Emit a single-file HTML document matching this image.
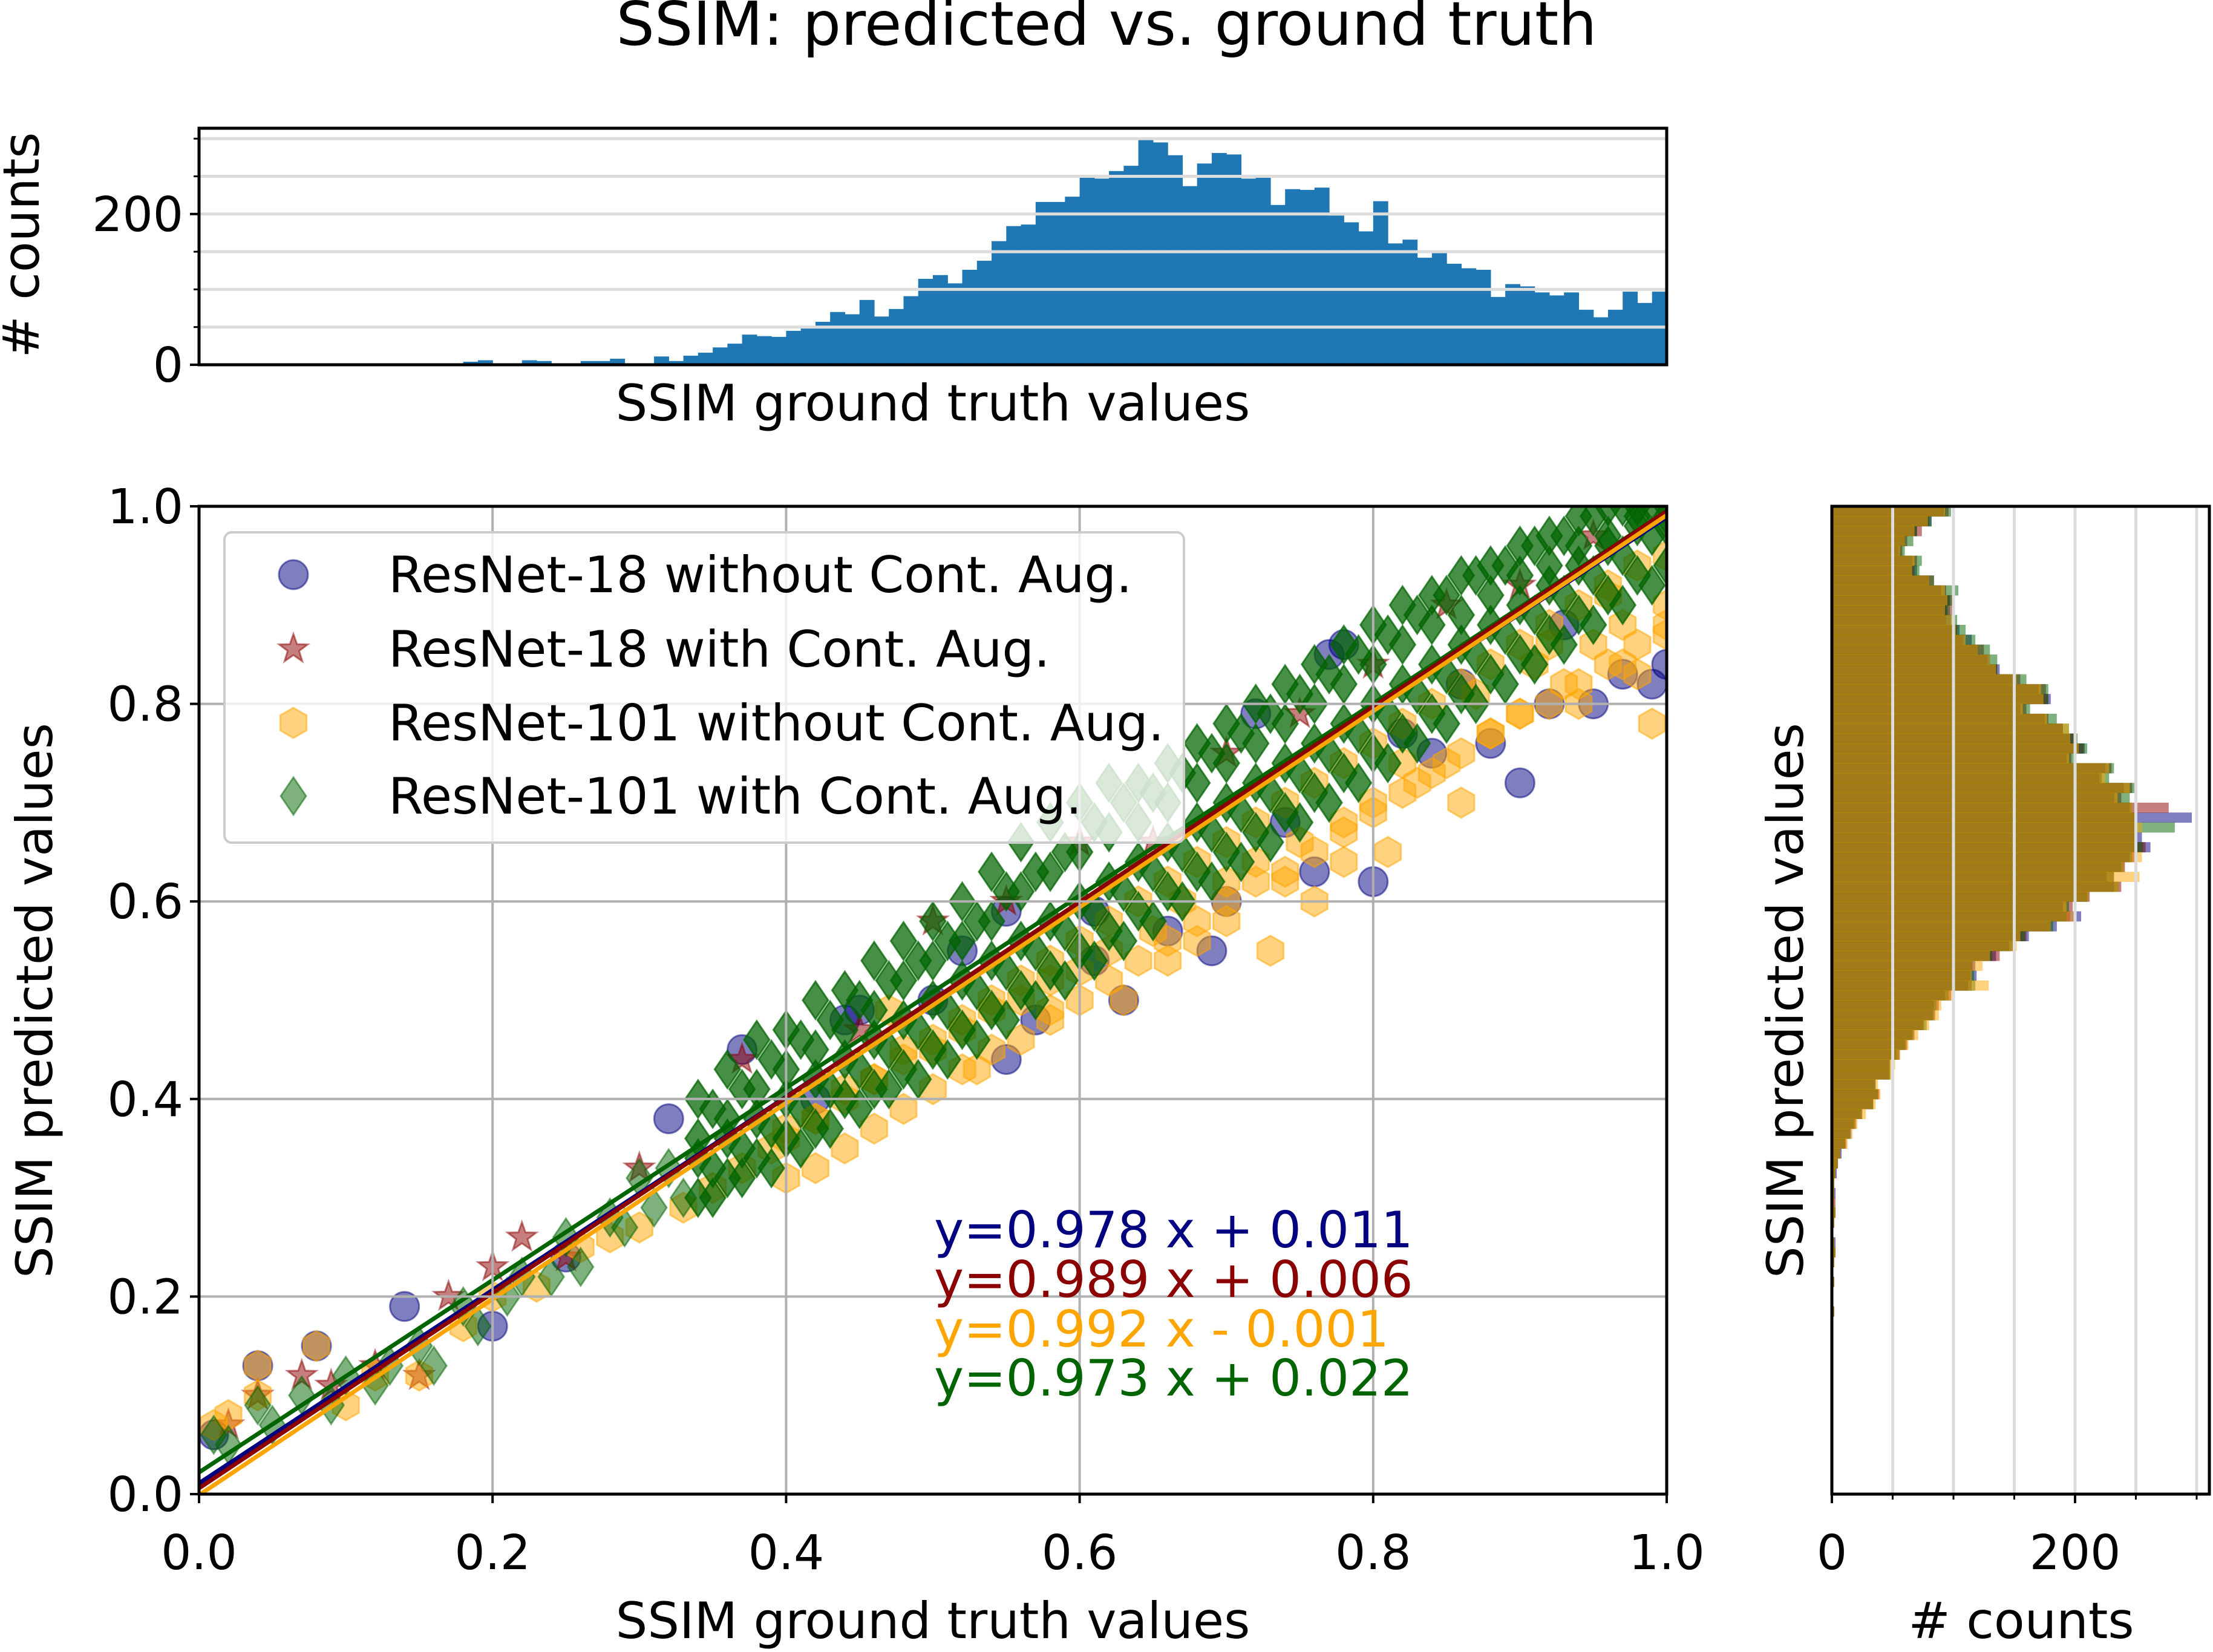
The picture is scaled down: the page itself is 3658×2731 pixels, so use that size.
<!DOCTYPE html>
<html><head><meta charset="utf-8"><style>
html,body{margin:0;padding:0;background:#fff}
svg text{font-family:"DejaVu Sans","Liberation Sans",sans-serif;fill:#000}
</style></head><body>
<svg id="fig" width="3658" height="2726" viewBox="0 0 3658 2726" xmlns="http://www.w3.org/2000/svg">
<rect width="3658" height="2726" fill="#fff"/>
<text x="1829" y="74" font-size="100" text-anchor="middle">SSIM: predicted vs. ground truth</text>
<g id="top"></g><g id="main"></g><g id="right"></g>
</svg>
<script>
// ---------- DATA ----------
const topCounts=[0,0,0,0,0,0,0,0,0,0,0,0,0,1,
1,2,1,0,4,6,2,1,6,5,1,2,5,5,8,1,2,11,5,12,16,23,28,40,38,37,45,49,57,70,
67,86,64,74,91,114,119,108,126,138,164,184,186,216,216,223,248,247,257,264,
299,295,278,237,267,281,279,247,248,212,233,232,235,198,189,177,217,161,166,142,
151,134,128,126,90,107,104,96,92,96,73,63,73,97,82,97];
const topYTicks=[0,200];
const topMinorTicks=[50,100,150,250,300];
const mainTicks=[0,0.2,0.4,0.6,0.8,1.0];
const mainTickLabels=["0.0","0.2","0.4","0.6","0.8","1.0"];
const rightTicks=[0,200];
const rightMinor=[50,100,150,250,300];
const histNavy=[92,82,70,60,55,66,70,80,90,97,95,98,105,115,120,130,138,150,170,180,155,175,190,199,208,193,225,220,240,232,245,296,250,255,262,245,238,226,232,210,190,205,185,162,146,135,118,119,112,93,84,83,75,66,60,53,47,47,36,38,34,24,18,16,11,8,5,4,2,3,2,3,2,1,3,3,2,1,2,1,1,2,1,1,0,1,0,0,1,0,0,0,0,0,0,0,0,0,0,0];
const histRed=[96,80,74,62,58,70,68,84,94,99,100,94,103,108,125,128,136,155,176,178,160,178,190,200,207,197,230,222,247,238,277,249,250,250,258,250,241,232,238,212,198,196,180,160,150,138,116,114,115,98,88,85,76,68,62,56,48,48,35,39,34,25,20,15,12,7,5,3,2,2,3,3,2,1,2,3,2,1,2,1,1,2,1,1,0,1,0,0,1,0,0,0,0,0,0,0,0,0,0,0];
const histOrange=[93,79,68,60,56,68,66,80,93,95,93,99,102,110,120,130,135,152,172,174,157,177,195,196,203,195,228,225,245,235,247,249,255,251,249,255,240,253,236,211,193,200,180,155,152,130,124,115,129,100,90,88,80,71,63,56,52,49,38,40,36,28,21,17,13,7,5,3,2,2,2,3,2,1,2,3,2,1,2,1,1,2,1,1,0,1,0,0,1,0,0,0,0,0,0,0,0,0,0,0];
const histGreen=[98,82,70,67,60,74,72,84,104,100,97,103,110,118,130,136,136,160,178,178,163,185,195,202,210,200,232,228,249,245,247,249,282,251,256,247,240,232,236,211,195,193,182,159,149,132,115,117,118,96,86,84,78,67,61,55,48,48,36,38,34,25,19,15,11,7,5,3,2,2,2,3,2,1,2,3,2,1,2,1,1,2,1,1,0,1,0,0,1,0,0,0,0,0,0,0,0,0,0,0];

const bluePts=[[0.01,0.06],[0.04,0.13],[0.08,0.15],[0.14,0.19],[0.2,0.17],[0.25,0.24],[0.32,0.38],[0.37,0.45],[0.42,0.4],[0.44,0.48],[0.5,0.5],[0.55,0.59],[0.57,0.48],[0.61,0.54],[0.63,0.5],[0.66,0.57],[0.7,0.6],[0.74,0.68],[0.77,0.85],[0.78,0.86],[0.8,0.62],[0.82,0.77],[0.84,0.75],[0.86,0.82],[0.88,0.76],[0.9,0.72],[0.92,0.8],[0.93,0.88],[0.95,0.8],[0.97,0.83],[0.99,0.82],[1.0,0.84],[0.72,0.79],[0.61,0.59],[0.52,0.55],[0.45,0.49],[0.55,0.44],[0.76,0.63],[0.69,0.55]];
const redPts=[[0.02,0.07],[0.04,0.1],[0.07,0.12],[0.09,0.11],[0.12,0.13],[0.15,0.12],[0.17,0.2],[0.2,0.23],[0.22,0.26],[0.25,0.24],[0.3,0.33],[0.37,0.44],[0.45,0.47],[0.5,0.58],[0.55,0.6],[0.6,0.66],[0.65,0.66],[0.7,0.75],[0.75,0.79],[0.8,0.84],[0.85,0.9],[0.9,0.92],[0.95,0.97]];
const orangePts=[[0.01,0.07],[0.02,0.08],[0.04,0.13],[0.04,0.10],[0.08,0.15],[0.1,0.09],[0.12,0.12],[0.15,0.12],[0.18,0.17],[0.2,0.2],[0.23,0.21],[0.26,0.25],[0.28,0.26],[0.3,0.27],[0.33,0.29],[0.35,0.31],[0.37,0.33],[0.39,0.35],[0.4,0.37],[0.42,0.38],[0.44,0.41],[0.46,0.42],[0.48,0.45],[0.5,0.45],[0.52,0.47],[0.54,0.49],[0.56,0.5],[0.58,0.52],[0.6,0.53],[0.62,0.55],[0.63,0.5],[0.65,0.57],[0.67,0.6],[0.68,0.56],[0.7,0.62],[0.72,0.64],[0.73,0.55],[0.75,0.66],[0.76,0.6],[0.78,0.68],[0.8,0.7],[0.81,0.65],[0.83,0.72],[0.85,0.74],[0.86,0.7],[0.88,0.77],[0.9,0.79],[0.91,0.84],[0.93,0.82],[0.94,0.8],[0.95,0.86],[0.97,0.88],[0.98,0.83],[0.99,0.78],[1.0,0.9],[1.0,0.87],[0.47,0.49],[0.53,0.43],[0.58,0.49],[0.66,0.54],[0.7,0.58],[0.74,0.62],[0.78,0.64],[0.82,0.74],[0.87,0.81],[0.92,0.86],[0.96,0.91],[0.97,0.84]];
const orangeX=[0.40,0.42,0.44,0.46,0.48,0.50,0.52,0.54,0.56,0.58,0.60,0.62,0.64,0.66,0.68,0.70,0.72,0.74,0.76,0.78,0.80,0.82,0.84,0.86,0.88,0.90,0.92,0.94,0.96,0.98,1.00];
const orangeY1=[0.36,0.38,0.40,0.42,0.44,0.46,0.48,0.50,0.52,0.54,0.56,0.58,0.60,0.62,0.64,0.66,0.68,0.70,0.72,0.74,0.76,0.78,0.80,0.82,0.84,0.86,0.88,0.90,0.92,0.94,0.95];
const orangeY2=[0.32,0.33,0.35,0.37,0.39,0.41,0.43,0.45,0.46,0.48,0.50,0.52,0.54,0.56,0.58,0.60,0.62,0.63,0.65,0.67,0.69,0.71,0.73,0.75,0.77,0.79,0.80,0.82,0.84,0.86,0.88];
const greenLowPts=[[0.01,0.06],[0.02,0.05],[0.04,0.09],[0.05,0.07],[0.07,0.10],[0.09,0.09],[0.1,0.12],[0.12,0.11],[0.13,0.13],[0.15,0.15],[0.16,0.13],[0.18,0.19],[0.19,0.17],[0.21,0.2],[0.22,0.22],[0.24,0.22],[0.25,0.26],[0.26,0.23],[0.28,0.28],[0.29,0.27],[0.3,0.32],[0.31,0.29],[0.32,0.33],[0.33,0.30]];
const greenX=[0.34,0.36,0.38,0.40,0.42,0.44,0.46,0.48,0.50,0.52,0.54,0.56,0.58,0.60,0.62,0.64,0.66,0.68,0.70,0.72,0.74,0.76,0.78,0.80,0.82,0.84,0.86,0.88,0.90,0.92,0.94,0.96,0.98,1.00];
const greenY1=[0.40,0.43,0.46,0.47,0.50,0.51,0.54,0.56,0.58,0.60,0.63,0.66,0.68,0.70,0.72,0.72,0.74,0.76,0.78,0.80,0.82,0.84,0.86,0.88,0.90,0.91,0.93,0.94,0.96,0.97,0.99,1.00,1.00,1.00];
const greenY2=[0.36,0.38,0.41,0.43,0.45,0.47,0.49,0.52,0.54,0.56,0.58,0.61,0.63,0.65,0.67,0.68,0.70,0.72,0.74,0.76,0.78,0.80,0.82,0.84,0.86,0.88,0.89,0.91,0.93,0.94,0.96,0.97,0.99,0.99];
const greenY3=[0.34,0.36,0.38,0.40,0.42,0.44,0.46,0.48,0.50,0.52,0.54,0.56,0.58,0.60,0.62,0.64,0.66,0.68,0.70,0.72,0.74,0.76,0.78,0.80,0.82,0.84,0.86,0.88,0.90,0.92,0.94,0.96,0.98,0.98];
const greenY4=[0.30,0.32,0.34,0.36,0.37,0.40,0.41,0.43,0.45,0.47,0.49,0.51,0.53,0.55,0.57,0.59,0.61,0.63,0.65,0.67,0.69,0.71,0.73,0.75,0.77,0.79,0.81,0.83,0.85,0.87,0.89,0.91,0.93,0.94];
const greenX2=[0.35,0.37,0.39,0.41,0.43,0.45,0.47,0.49,0.51,0.53,0.55,0.57,0.59,0.61,0.63,0.65,0.67,0.69,0.71,0.73,0.75,0.77,0.79,0.81,0.83,0.85,0.87,0.89,0.91,0.93,0.95,0.97,0.99];
const greenY5=[0.39,0.41,0.44,0.46,0.48,0.50,0.52,0.54,0.56,0.58,0.61,0.63,0.65,0.68,0.70,0.71,0.73,0.75,0.77,0.79,0.81,0.83,0.85,0.87,0.89,0.91,0.93,0.94,0.96,0.97,0.99,1.00,1.00];
const greenY6=[0.33,0.35,0.37,0.39,0.41,0.43,0.45,0.47,0.49,0.51,0.53,0.55,0.57,0.59,0.61,0.63,0.65,0.67,0.69,0.71,0.73,0.75,0.77,0.79,0.81,0.83,0.85,0.87,0.89,0.91,0.93,0.95,0.97];
const greenY7=[0.30,0.32,0.33,0.35,0.37,0.39,0.41,0.42,0.44,0.46,0.48,0.50,0.52,0.54,0.56,0.58,0.60,0.62,0.64,0.66,0.68,0.70,0.72,0.74,0.76,0.78,0.80,0.82,0.84,0.86,0.88,0.90,0.92];
const fitSlopes=[0.978,0.989,0.992,0.973];
const fitIntercepts=[0.011,0.006,-0.001,0.022];
const fitLabels=["y=0.978 x + 0.011","y=0.989 x + 0.006","y=0.992 x - 0.001","y=0.973 x + 0.022"];
const seriesNames=["ResNet-18 without Cont. Aug.","ResNet-18 with Cont. Aug.","ResNet-101 without Cont. Aug.","ResNet-101 with Cont. Aug."];
const seriesColors=["#000080","#8b0000","#ffa500","#006400"];

// ---------- SCALES ----------
const NS="http://www.w3.org/2000/svg";
const ML=329,MR=2755,MT=837,MB=2470;
const mx=v=>ML+v*(MR-ML), my=v=>MB-v*(MB-MT);
const TL=329,TR=2755,TT=212,TB=603;
const ty=c=>TB-c*1.246;
const RL=3028,RR=3652;
const rx=c=>RL+c*2.01;
function el(parent,tag,attrs,text){const e=document.createElementNS(NS,tag);for(const k in attrs)e.setAttribute(k,attrs[k]);if(text!==undefined)e.textContent=text;parent.appendChild(e);return e;}

// ---------- TOP HISTOGRAM ----------
const gT=document.getElementById('top');
const bw=(TR-TL)/topCounts.length;
topCounts.forEach((c,i)=>{if(c<=0)return;
 const r=el(gT,'rect',{x:TL+i*bw,y:ty(c),width:bw+0.6,height:TB-ty(c),fill:'#1f77b4'});
 
 });
[50,100,150,200,250,300].forEach(c=>{el(gT,'line',{x1:TL,x2:TR,y1:ty(c),y2:ty(c),stroke:'#dcdcdc','stroke-width':5});});
el(gT,'rect',{x:TL,y:TT,width:TR-TL,height:TB-TT,fill:'none',stroke:'#000','stroke-width':5});
topYTicks.forEach(c=>{el(gT,'line',{x1:TL-15,x2:TL,y1:ty(c),y2:ty(c),stroke:'#000','stroke-width':4});
 const t=el(gT,'text',{x:TL-26,y:ty(c)+28,'font-size':79,'text-anchor':'end'},String(c));
 
 });
topMinorTicks.forEach(c=>{el(gT,'line',{x1:TL-9,x2:TL,y1:ty(c),y2:ty(c),stroke:'#000','stroke-width':3});});
let t1=el(gT,'text',{x:0,y:0,'font-size':83,'text-anchor':'middle',transform:'translate(64,405) rotate(-90)'},'# counts');


let t2=el(gT,'text',{x:1542,y:695,'font-size':83,'text-anchor':'middle'},'SSIM ground truth values');



// ---------- MAIN SCATTER ----------
const gM=document.getElementById('main');
function circle(g,x,y,c){return el(g,'circle',{cx:mx(x),cy:my(y),r:24,fill:c,'fill-opacity':0.5,stroke:c,'stroke-opacity':0.5,'stroke-width':3});}
function star(g,x,y,c){let p=[];const X=mx(x),Y=my(y);for(let k=0;k<10;k++){const a=-Math.PI/2+k*Math.PI/5,r=k%2?10:25;p.push((X+r*Math.cos(a)).toFixed(1)+','+(Y+r*Math.sin(a)).toFixed(1));}
 return el(g,'polygon',{points:p.join(' '),fill:c,'fill-opacity':0.5,stroke:c,'stroke-opacity':0.5,'stroke-width':3});}
function hexa(g,x,y,c){let p=[];const X=mx(x),Y=my(y);for(let k=0;k<6;k++){const a=-Math.PI/2+k*Math.PI/3;p.push((X+25*Math.cos(a)).toFixed(1)+','+(Y+25*Math.sin(a)).toFixed(1));}
 return el(g,'polygon',{points:p.join(' '),fill:c,'fill-opacity':0.5,stroke:c,'stroke-opacity':0.5,'stroke-width':3});}
function diam(g,x,y,c,op){const X=mx(x),Y=my(y);const o=op||0.5;
 return el(g,'polygon',{points:`${X},${Y-31} ${X+21},${Y} ${X},${Y+31} ${X-21},${Y}`,fill:c,'fill-opacity':o,stroke:c,'stroke-opacity':o,'stroke-width':3});}
const clip=el(gM,'clipPath',{id:'mclip'});el(clip,'rect',{x:ML,y:MT,width:MR-ML,height:MB-MT});
const gS=el(gM,'g',{'clip-path':'url(#mclip)'});
bluePts.forEach(p=>{const m=circle(gS,p[0],p[1],seriesColors[0]);
 
 });
redPts.forEach(p=>{const m=star(gS,p[0],p[1],seriesColors[1]);
 
 });
orangePts.forEach(p=>{const m=hexa(gS,p[0],p[1],seriesColors[2]);
 
 });
[orangeY1,orangeY2].forEach(ys=>{orangeX.forEach((x,i)=>{const m=hexa(gS,x,ys[i],seriesColors[2]);
 
 });});
greenLowPts.forEach(p=>{const m=diam(gS,p[0],p[1],seriesColors[3]);
 
 });
[greenY1,greenY2,greenY3,greenY4].forEach(ys=>{greenX.forEach((x,i)=>{const m=diam(gS,x,ys[i],seriesColors[3],0.72);
 
 });});
[greenY5,greenY6,greenY7].forEach(ys=>{greenX2.forEach((x,i)=>{const m=diam(gS,x,ys[i],seriesColors[3],0.72);
 
 });});
[3,0,1,2].forEach(k=>{const l=el(gS,'line',{x1:mx(0),y1:my(fitIntercepts[k]),x2:mx(1),y2:my(fitSlopes[k]+fitIntercepts[k]),stroke:seriesColors[k],'stroke-width':7});
 
 });
mainTicks.forEach(v=>{el(gM,'line',{x1:mx(v),x2:mx(v),y1:MT,y2:MB,stroke:'#b0b0b0','stroke-width':4});
 el(gM,'line',{x1:ML,x2:MR,y1:my(v),y2:my(v),stroke:'#b0b0b0','stroke-width':4});});
el(gM,'rect',{x:ML,y:MT,width:MR-ML,height:MB-MT,fill:'none',stroke:'#000','stroke-width':5});
mainTicks.forEach((v,i)=>{
 el(gM,'line',{x1:mx(v),x2:mx(v),y1:MB,y2:MB+15,stroke:'#000','stroke-width':4});
 el(gM,'line',{x1:ML-15,x2:ML,y1:my(v),y2:my(v),stroke:'#000','stroke-width':4});
 const a=el(gM,'text',{x:mx(v),y:2594,'font-size':79,'text-anchor':'middle'},mainTickLabels[i]);
 
 
 const b=el(gM,'text',{x:ML-26,y:my(v)+28,'font-size':79,'text-anchor':'end'},mainTickLabels[i]);
 
 });
let t3=el(gM,'text',{x:1542,y:2708,'font-size':83,'text-anchor':'middle'},'SSIM ground truth values');


let t4=el(gM,'text',{x:0,y:0,'font-size':83,'text-anchor':'middle',transform:'translate(86,1654) rotate(-90)'},'SSIM predicted values');


const lg=el(gM,'g',{});


el(lg,'rect',{x:371,y:880,width:1586,height:513,rx:12,fill:'#fff','fill-opacity':0.8,stroke:'#cccccc','stroke-width':4});
const legY=[950,1073,1195,1316];
const shapeFns=[circle,star,hexa,diam];
seriesNames.forEach((n,i)=>{
 const yv=(MB-legY[i])/(MB-MT), xv=(485-ML)/(MR-ML);
 shapeFns[i](lg,xv,yv,seriesColors[i]);
 const t=el(lg,'text',{x:642,y:legY[i]+29,'font-size':83},n);
 
 });
const eqY=[2062,2144,2226,2307];
fitLabels.forEach((s,i)=>{const t=el(gM,'text',{x:1544,y:eqY[i],'font-size':83,fill:seriesColors[i],style:'fill:'+seriesColors[i]},s);
 
 });

// ---------- RIGHT HISTOGRAM ----------
const gR=document.getElementById('right');
const rbh=(MB-MT)/100;
[[histNavy,0],[histRed,1],[histGreen,3],[histOrange,2]].forEach(([arr,k])=>{arr.forEach((c,i)=>{if(c<=0)return;
 const r=el(gR,'rect',{x:RL,y:MT+i*rbh,width:rx(c)-RL,height:rbh+0.5,fill:seriesColors[k],'fill-opacity':0.5});
 
 });});
[50,100,150,200,250,300].forEach(c=>{el(gR,'line',{x1:rx(c),x2:rx(c),y1:MT,y2:MB,stroke:'#dcdcdc','stroke-width':5});});
el(gR,'rect',{x:RL,y:MT,width:RR-RL,height:MB-MT,fill:'none',stroke:'#000','stroke-width':5});
rightTicks.forEach(c=>{el(gR,'line',{x1:rx(c),x2:rx(c),y1:MB,y2:MB+15,stroke:'#000','stroke-width':4});
 const t=el(gR,'text',{x:rx(c),y:2594,'font-size':79,'text-anchor':'middle'},String(c));
 
 });
rightMinor.forEach(c=>{el(gR,'line',{x1:rx(c),x2:rx(c),y1:MB,y2:MB+9,stroke:'#000','stroke-width':3});});
let t5=el(gR,'text',{x:3341,y:2708,'font-size':83,'text-anchor':'middle'},'# counts');


let t6=el(gR,'text',{x:0,y:0,'font-size':83,'text-anchor':'middle',transform:'translate(2980,1654) rotate(-90)'},'SSIM predicted values');


</script>
</body></html>
